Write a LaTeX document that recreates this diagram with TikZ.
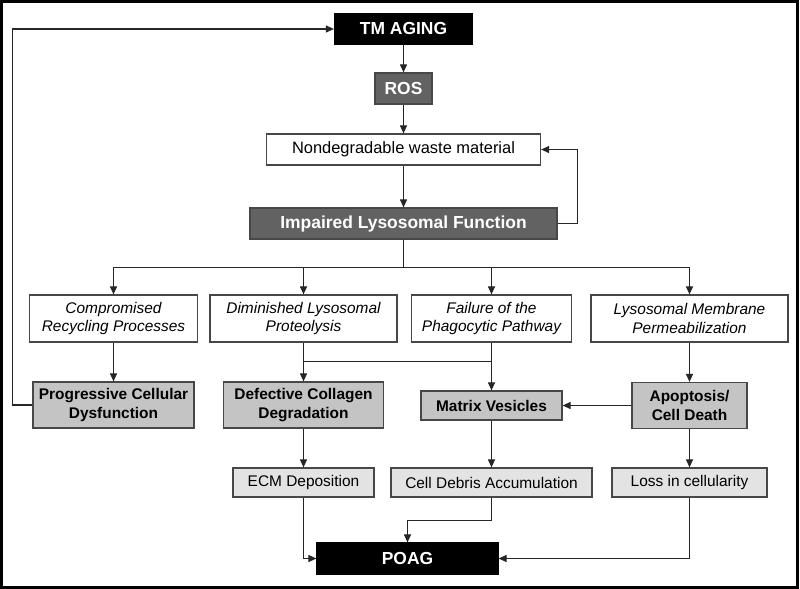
\documentclass[tikz,border=0pt]{standalone}
\usepackage{fontspec}
\setmainfont{Liberation Sans}
\usetikzlibrary{arrows.meta}
\definecolor{darkfill}{HTML}{626262}
\definecolor{midfill}{HTML}{C4C4C4}
\definecolor{lightfill}{HTML}{E3E3E3}
\definecolor{edgegray}{HTML}{474747}

\begin{document}
\begin{tikzpicture}[x=1bp,y=-1bp]

\tikzstyle{every node}+=[inner sep=0pt]
\tikzstyle{box}=[draw=edgegray,line width=1.2bp,align=center,font=\fontsize{15.5}{18.5}\selectfont]
\tikzstyle{blackbox}=[box,draw=black,fill=black,text=white,font=\fontsize{17.5}{20}\selectfont\bfseries]
\tikzstyle{greybox}=[box,fill=darkfill,text=white,font=\fontsize{17.5}{20}\selectfont\bfseries]
\tikzstyle{plainbox}=[box,fill=white]
\tikzstyle{italbox}=[box,fill=white,font=\fontsize{15.5}{18.5}\selectfont\itshape]
\tikzstyle{midbox}=[box,fill=midfill,font=\fontsize{15.5}{18.5}\selectfont\bfseries]
\tikzstyle{lightbox}=[box,fill=lightfill]
\tikzstyle{flow}=[draw=black!85,line width=1.1bp,-{Triangle[length=8bp,width=7bp]}]
\tikzstyle{wire}=[draw=black!85,line width=1.1bp]

\useasboundingbox (0,0) rectangle (800,589);
\draw [black,line width=2.5bp] (1.5,1.5) rectangle (797.5,587.5);

\node [blackbox,minimum width=138bp,minimum height=30bp] (tmaging) at (403.5,29) {TM AGING};
\node [greybox,minimum width=57bp,minimum height=31bp] (ros) at (403.5,88.5) {ROS};
\node [plainbox,minimum width=274bp,minimum height=31bp,font=\fontsize{16.5}{19}\selectfont] (waste) at (403.5,149.5) {Nondegradable waste material};
\node [greybox,minimum width=307bp,minimum height=31bp] (impaired) at (403.5,223.5) {Impaired Lysosomal Function};

\node [italbox,minimum width=168bp,minimum height=47bp] (recyc) at (113.5,318.5) {Compromised\\Recycling Processes};
\node [italbox,minimum width=187bp,minimum height=47bp] (proteo) at (303.5,318.5) {Diminished Lysosomal\\Proteolysis};
\node [italbox,minimum width=160bp,minimum height=47bp] (phago) at (491.5,318.5) {Failure of the\\Phagocytic Pathway};
\node [italbox,minimum width=197bp,minimum height=47bp] (lmp) at (689.5,318.5) {Lysosomal Membrane\\Permeabilization};

\node [midbox,minimum width=161bp,minimum height=46bp] (progr) at (113.5,405) {Progressive Cellular\\Dysfunction};
\node [midbox,minimum width=160bp,minimum height=46bp] (collagen) at (303.5,405) {Defective Collagen\\Degradation};
\node [midbox,minimum width=141bp,minimum height=29bp] (vesicles) at (491.5,405.5) {Matrix Vesicles};
\node [midbox,minimum width=115bp,minimum height=46bp] (apopt) at (689.5,405.5) {Apoptosis/\\Cell Death};

\node [lightbox,minimum width=141bp,minimum height=29bp] (ecm) at (303.5,482.5) {ECM Deposition};
\node [lightbox,minimum width=201bp,minimum height=29bp] (debris) at (491.5,482.5) {Cell Debris Accumulation};
\node [lightbox,minimum width=155bp,minimum height=29bp] (loss) at (689.5,482.5) {Loss in cellularity};

\node [blackbox,minimum width=181bp,minimum height=31bp] (poag) at (407.5,558.5) {POAG};

\coordinate (split) at (403.5,267.5);
\coordinate (merge) at (491.5,361.5);
\coordinate (bend) at (407.5,520.5);

\draw [flow] (tmaging) -- (ros);
\draw [flow] (ros) -- (waste);
\draw [flow] (waste) -- (impaired);
\draw [flow] (impaired.east) -- ++(20,0) |- (waste.east);

\draw [wire] (impaired.south) -- (split);
\draw [flow] (split) -| (recyc.north);
\draw [flow] (split) -| (proteo.north);
\draw [flow] (split) -| (phago.north);
\draw [flow] (split) -| (lmp.north);

\draw [flow] (recyc) -- (progr);
\draw [flow] (progr.west) -- ++(-20,0) |- (tmaging.west);
\draw [flow] (proteo.south) -- (proteo.south |- collagen.north);
\draw [wire] (merge -| proteo.south) -- (merge);
\draw [flow] (phago.south) -- (phago.south |- vesicles.north);
\draw [flow] (lmp) -- (apopt);
\draw [flow] (apopt.west) -- (apopt.west -| vesicles.east);

\draw [flow] (collagen.south) -- (collagen.south |- ecm.north);
\draw [flow] (vesicles.south) -- (vesicles.south |- debris.north);
\draw [flow] (apopt) -- (loss);

\draw [flow] (ecm.south) |- (poag.west);
\draw [flow] (debris.south) |- (bend) -- (bend |- poag.north);
\draw [flow] (loss.south) |- (poag.east);
\end{tikzpicture}
\end{document}
